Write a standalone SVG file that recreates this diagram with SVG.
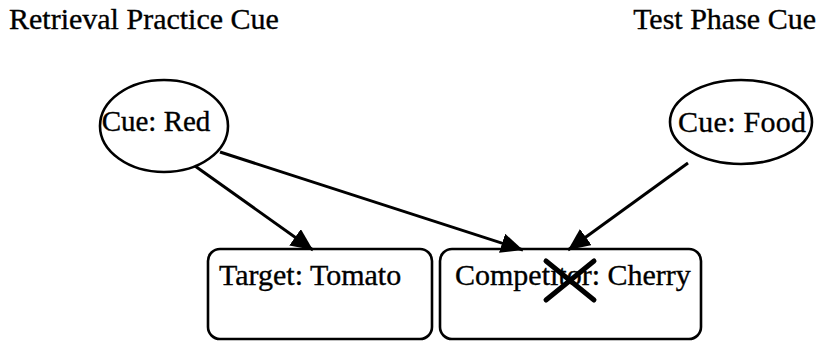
<svg xmlns="http://www.w3.org/2000/svg" width="818" height="341" viewBox="0 0 818 341">
  <style>
    text { font-family: "Liberation Serif", "Times New Roman", serif; font-size: 30px; fill: #000; stroke: #000; stroke-width: 0.35; }
    .small { font-size: 29px; }
    .node { fill: #fff; stroke: #000; stroke-width: 2.6; }
    .edge { stroke: #000; stroke-width: 3; fill: none; marker-end: url(#head); }
    .cross { stroke: #000; stroke-width: 5; stroke-linecap: round; }
  </style>
  <defs>
    <marker id="head" markerUnits="userSpaceOnUse" markerWidth="24" markerHeight="22" refX="22" refY="10" orient="auto">
      <path d="M0,0 L22,10 L0,20 Z" fill="#000"/>
    </marker>
  </defs>

  <g id="titles">
    <text x="9" y="29">Retrieval Practice Cue</text>
    <text x="816" y="29" text-anchor="end">Test Phase Cue</text>
  </g>

  <g id="cue-red">
    <ellipse class="node" cx="164" cy="126" rx="64" ry="46"/>
    <text class="small" x="156" y="131" text-anchor="middle">Cue: Red</text>
  </g>

  <g id="cue-food">
    <ellipse class="node" cx="741" cy="122" rx="71" ry="42"/>
    <text x="742" y="132" text-anchor="middle" textLength="128">Cue: Food</text>
  </g>

  <g id="target">
    <rect class="node" x="208" y="249" width="224" height="90" rx="12"/>
    <text x="219" y="285">Target: Tomato</text>
  </g>

  <g id="competitor">
    <rect class="node" x="440" y="249" width="261" height="90" rx="12"/>
    <text x="455" y="285">Competitor: Cherry</text>
    <!-- strike-out cross over the competitor item -->
    <line class="cross" x1="546" y1="261" x2="594" y2="300"/>
    <line class="cross" x1="594" y1="261" x2="546" y2="300"/>
  </g>

  <g id="connectors">
    <line class="edge" x1="195" y1="166" x2="313" y2="250"/>
    <line class="edge" x1="220" y1="152" x2="523" y2="250"/>
    <line class="edge" x1="688" y1="163" x2="568" y2="250"/>
  </g>
</svg>
